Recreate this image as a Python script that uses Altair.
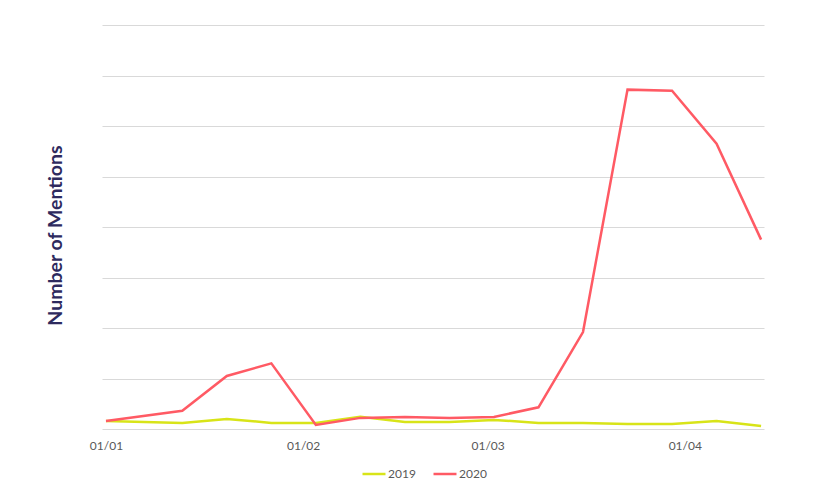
import altair as alt
import pandas as pd

dates = ["2020-01-01", "2020-01-13", "2020-01-20", "2020-01-27", "2020-02-03",
         "2020-02-10", "2020-02-17", "2020-02-24", "2020-03-02", "2020-03-09",
         "2020-03-16", "2020-03-23", "2020-03-30", "2020-04-06", "2020-04-13"]
mentions_2019 = [16, 12, 20, 12, 12, 24, 14, 14, 18, 12, 12, 10, 10, 16, 6]
mentions_2020 = [16, 36, 105, 130, 8, 22, 24, 22, 24, 43, 192, 672, 670, 565, 375]
series = ["2019", "2020"]
colors = ["#d8e418", "#ff5a64"]
y_grid = [0, 100, 200, 300, 400, 500, 600, 700, 800]

rows = []
for d, a, b in zip(dates, mentions_2019, mentions_2020):
    rows.append({"date": d, "series": series[0], "value": a})
    rows.append({"date": d, "series": series[1], "value": b})
df = pd.DataFrame(rows)

x_values = [alt.DateTime(year=2020, month=m, date=1, utc=True) for m in [1, 2, 3, 4]]

chart = alt.Chart(df).mark_line(strokeWidth=2.5).encode(
    x=alt.X("date:T",
            scale=alt.Scale(type="utc",
                            domain=[alt.DateTime(year=2019, month=12, date=31, hours=9, utc=True),
                                    alt.DateTime(year=2020, month=4, date=13, hours=11, utc=True)]),
            axis=alt.Axis(title=None, format="%d/%m", values=x_values, grid=False,
                          ticks=False, domain=False, labelPadding=11,
                          labelColor="#595959", labelFontSize=12, labelFont="Lato")),
    y=alt.Y("value:Q",
            scale=alt.Scale(domain=[0, 800], nice=False),
            axis=alt.Axis(title="Number of Mentions", values=y_grid, labels=False,
                          ticks=False, domain=False, gridColor="#d9d9d9", gridWidth=1,
                          titleColor="#2e2a5e", titleFontSize=19.5, titleFont="Lato",
                          titleFontWeight="bold", titlePadding=37, titleY=210)),
    color=alt.Color("series:N",
                    scale=alt.Scale(domain=series, range=colors),
                    legend=alt.Legend(title=None, orient="none", direction="horizontal",
                                      legendX=259, legendY=436, symbolType="stroke",
                                      symbolStrokeWidth=2.5, symbolSize=529,
                                      labelColor="#595959", labelFontSize=12,
                                      labelFont="Lato", columnPadding=12,
                                      labelOffset=1)),
).properties(
    width=662,
    height=404,
    background="white",
    autosize=alt.AutoSizeParams(type="none"),
    padding={"left": 94, "top": 17, "right": 60, "bottom": 60},
).configure_view(strokeWidth=0, stroke="transparent")

chart.save("out.html", embed_options={"renderer": "svg", "actions": False})
